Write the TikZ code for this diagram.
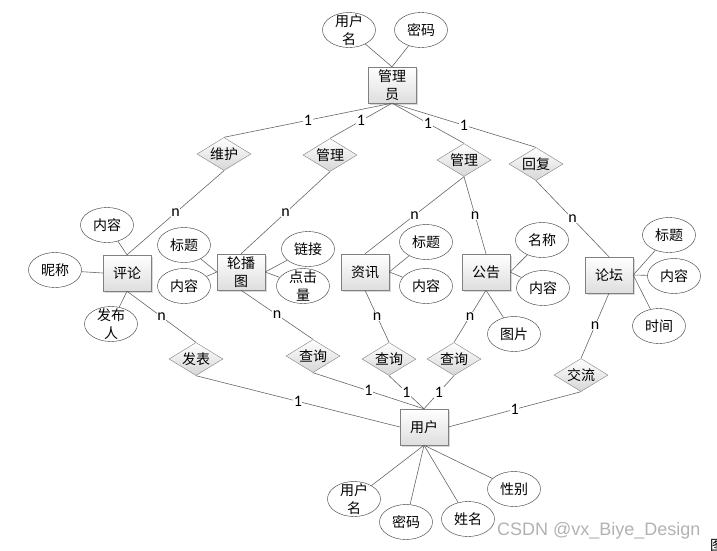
\documentclass[tikz,border=0pt]{standalone}
\usepackage{fontspec}
\setmainfont{Noto Sans CJK SC}
\newfontfamily\numfont{Carlito}
\newfontfamily\markfont{Liberation Sans}
\usetikzlibrary{shapes.geometric}
\usetikzlibrary{shadows}
\newcommand{\twoline}[2]{\smash{\raisebox{-5pt}{\begin{tabular}{@{}c@{}}#1\\#2\end{tabular}}}}

\begin{document}
\begin{tikzpicture}[x=1pt,y=-1pt,font=\fontsize{14}{18}\selectfont,
  ent/.style={rectangle,draw=black!50,top color=white,bottom color=black!13,minimum width=48pt,minimum height=36pt,inner sep=0pt,drop shadow={opacity=0.3,shadow xshift=1.5pt,shadow yshift=-1.5pt}},
  rel/.style={diamond,draw=black!50,top color=white,bottom color=black!16,aspect=1.65,minimum width=54pt,minimum height=33pt,inner sep=0pt},
  attr/.style={ellipse,draw=black!80,fill=white,minimum width=53pt,minimum height=35pt,inner sep=0pt},
  link/.style={draw=black!60,line width=0.6pt},
  card/.style={midway,fill=white,inner sep=0.5pt,font=\numfont\fontsize{16}{16}\selectfont}]
\useasboundingbox (0,0) rectangle (717,550);

\node[ent] (admin) at (392,85) {\twoline{管理}{员}};
\node[attr] (adname) at (349,30) {\twoline{用户}{名}};
\node[attr] (adpwd) at (421,30) {密码};
\draw[link] (adname) -- (admin.north);
\draw[link] (adpwd) -- (admin.north);

\node[rel] (weihu) at (224,154) {维护};
\node[rel] (guanliA) at (330,155) {管理};
\node[rel] (guanliB) at (464,160) {管理};
\node[rel] (huifu) at (536,164) {回复};
\foreach \r in {weihu,guanliA,guanliB,huifu}
  \draw[link] (admin.south) -- node[card]{1} (\r.north);

\node[ent] (pinglun) at (127,273) {评论};
\node[ent] (lunbo) at (241,272) {\twoline{轮播}{图}};
\node[ent] (zixun) at (365,272) {资讯};
\node[ent] (gonggao) at (486,272) {公告};
\node[ent] (luntan) at (609,275) {论坛};
\draw[link] (weihu.south) -- node[card]{n} (pinglun.north);
\draw[link] (guanliA.south) -- node[card]{n} (lunbo.north);
\draw[link] (guanliB.south) -- node[card]{n} (zixun.north);
\draw[link] (guanliB.south) -- node[card]{n} (gonggao.north);
\draw[link] (huifu.south) -- node[card]{n} (luntan.north);

\node[attr] (plneirong) at (107,225) {内容};
\node[attr] (plnicheng) at (55,270) {昵称};
\node[attr] (plfabu) at (111,324) {\twoline{发布}{人}};
\draw[link] (pinglun.north) -- (plneirong);
\draw[link] (pinglun.west) -- (plnicheng);
\draw[link] (pinglun.south) -- (plfabu);

\node[attr] (lbbiaoti) at (184,245) {标题};
\node[attr] (lbneirong) at (184,286) {内容};
\node[attr] (lblianjie) at (308,249) {链接};
\node[attr] (lbdianji) at (303,286) {\twoline{点击}{量}};
\draw[link] (lunbo.west) -- (lbbiaoti);
\draw[link] (lunbo.west) -- (lbneirong);
\draw[link] (lunbo.east) -- (lblianjie);
\draw[link] (lunbo.east) -- (lbdianji);

\node[attr] (zxbiaoti) at (426,242) {标题};
\node[attr] (zxneirong) at (426,286) {内容};
\draw[link] (zixun.east) -- (zxbiaoti);
\draw[link] (zixun.east) -- (zxneirong);

\node[attr] (ggmingcheng) at (542,240) {名称};
\node[attr] (ggneirong) at (543,288) {内容};
\node[attr] (ggtupian) at (514,334) {图片};
\draw[link] (gonggao.east) -- (ggmingcheng);
\draw[link] (gonggao.east) -- (ggneirong);
\draw[link] (gonggao.south) -- (ggtupian);

\node[attr] (ltbiaoti) at (669,235) {标题};
\node[attr] (ltneirong) at (674,276) {内容};
\node[attr] (ltshijian) at (659,326) {时间};
\foreach \a in {ltbiaoti,ltneirong,ltshijian}
  \draw[link] (luntan.east) -- (\a);

\node[ent] (user) at (424,427) {用户};
\node[rel] (fabiao) at (196,359) {发表};
\node[rel] (chaxunA) at (313,356) {查询};
\node[rel] (chaxunB) at (389,359) {查询};
\node[rel] (chaxunC) at (454,359) {查询};
\node[rel] (jiaoliu) at (581,375) {交流};
\draw[link] (pinglun.south) -- node[card]{n} (fabiao.north);
\draw[link] (lunbo.south) -- node[card]{n} (chaxunA.north);
\draw[link] (zixun.south) -- node[card]{n} (chaxunB.north);
\draw[link] (gonggao.south) -- node[card]{n} (chaxunC.north);
\draw[link] (luntan.south) -- node[card]{n} (jiaoliu.north);
\draw[link] (fabiao.south) -- node[card]{1} (user.west);
\foreach \r in {chaxunA,chaxunB,chaxunC}
  \draw[link] (\r.south) -- node[card]{1} (user.north);
\draw[link] (jiaoliu.south) -- node[card]{1} (user.east);

\node[attr] (usname) at (354,499) {\twoline{用户}{名}};
\node[attr] (uspwd) at (406,522) {密码};
\node[attr] (usxingming) at (468,519) {姓名};
\node[attr] (usxingbie) at (514,489) {性别};
\foreach \a in {usname,uspwd,usxingming,usxingbie}
  \draw[link] (user.south) -- (\a);

\node[anchor=west,inner sep=0pt,text=black!30,font=\markfont\fontsize{18}{18}\selectfont] (mark) at (497,531) {CSDN @vx\_Biye\_Design};
\node[anchor=west,inner sep=0pt] (cut) at (710,545) {图};
\end{tikzpicture}
\end{document}
